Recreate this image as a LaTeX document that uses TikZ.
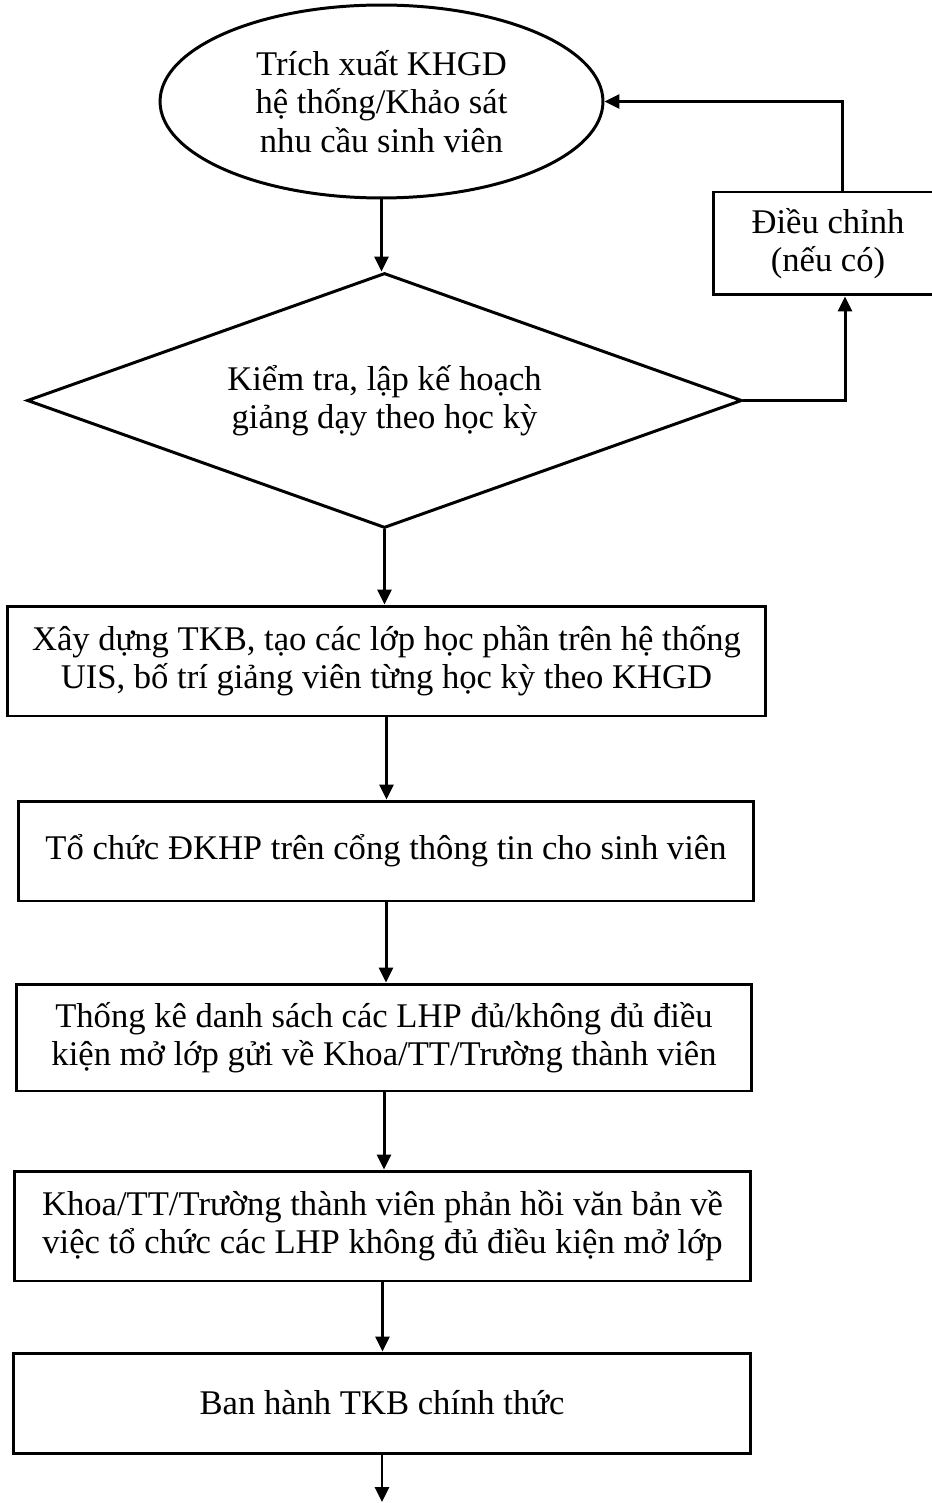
\documentclass[tikz,border=0pt]{standalone}
\usepackage{fontspec}
\setmainfont{Liberation Serif}
\usepackage{tikz}
\usetikzlibrary{arrows.meta}
\usetikzlibrary{backgrounds,positioning,calc}
\usetikzlibrary{shapes,shapes.geometric}
\pgfdeclarelayer{edgelayer}
\pgfdeclarelayer{nodelayer}
\pgfsetlayers{background,edgelayer,nodelayer,main}
\tikzstyle{every picture}=[x=0.02cm,y=-0.02cm]
\tikzstyle{txt}=[font=\fontsize{19.7pt}{21.8pt}\selectfont,align=center,inner sep=0pt]
\tikzstyle{oval}=[txt,shape=ellipse,draw=black,line width=1.7pt,fill=white,minimum width=8.86cm,minimum height=3.86cm]
\tikzstyle{dec}=[txt,shape=diamond,aspect=2.8,draw=black,line width=1.7pt,fill=white,minimum width=14.3cm,minimum height=5.1cm]
\tikzstyle{proc}=[txt,shape=rectangle,draw=black,line width=1.7pt,fill=white]
\tikzstyle{flowedge}=[line width=1.7pt,-{Triangle[length=0.3cm,width=0.28cm]}]

\begin{document}
\begin{tikzpicture}
	\useasboundingbox (0,0) rectangle (931,1503);
	\begin{pgfonlayer}{nodelayer}
		\node [style=oval] (trich) at (381.5, 101.5) {Trích xuất KHGD\\hệ thống/Khảo sát\\nhu cầu sinh viên};
		\node [style=dec] (kiemtra) at (384.5, 400.5) {Kiểm tra, lập kế hoạch\\giảng dạy theo học kỳ};
		\node [style=proc,minimum width=4.6cm,minimum height=2.06cm] (dieu) at (828, 243.5) {Điều chỉnh\\(nếu có)};
		\node [style=proc,minimum width=15.18cm,minimum height=2.2cm] (xaydung) at (386.5, 661) {Xây dựng TKB, tạo các lớp học phần trên hệ thống\\UIS, bố trí giảng viên từng học kỳ theo KHGD};
		\node [style=proc,minimum width=14.72cm,minimum height=2cm] (tochuc) at (386, 851) {Tổ chức ĐKHP trên cổng thông tin cho sinh viên};
		\node [style=proc,minimum width=14.72cm,minimum height=2.14cm] (thongke) at (384, 1037.5) {Thống kê danh sách các LHP đủ/không đủ điều\\kiện mở lớp gửi về Khoa/TT/Trường thành viên};
		\node [style=proc,minimum width=14.74cm,minimum height=2.2cm] (phanhoi) at (382.5, 1226) {Khoa/TT/Trường thành viên phản hồi văn bản về\\việc tổ chức các LHP không đủ điều kiện mở lớp};
		\node [style=proc,minimum width=14.76cm,minimum height=2cm] (banhanh) at (382, 1403) {Ban hành TKB chính thức};
		\coordinate (ketthuc) at (372, 1502);
	\end{pgfonlayer}
	\begin{pgfonlayer}{edgelayer}
		\draw [style=flowedge] (trich.south) -- (trich.south |- kiemtra.north);
		\draw [style=flowedge] (kiemtra.south) -- (kiemtra.south |- xaydung.north);
		\draw [style=flowedge] (xaydung.south) -- (xaydung.south |- tochuc.north);
		\draw [style=flowedge] (tochuc.south) -- (tochuc.south |- thongke.north);
		\draw [style=flowedge] (thongke.south) -- (thongke.south |- phanhoi.north);
		\draw [style=flowedge] (phanhoi.south) -- (phanhoi.south |- banhanh.north);
		\draw [style=flowedge] (banhanh.south) -- (banhanh.south |- ketthuc);
		% vong dieu chinh
		\draw [style=flowedge] (kiemtra.east) -| ([xshift=0.34cm]dieu.south);
		\draw [style=flowedge] ([xshift=0.28cm]dieu.north) |- (trich.east);
	\end{pgfonlayer}
\end{tikzpicture}
\end{document}
